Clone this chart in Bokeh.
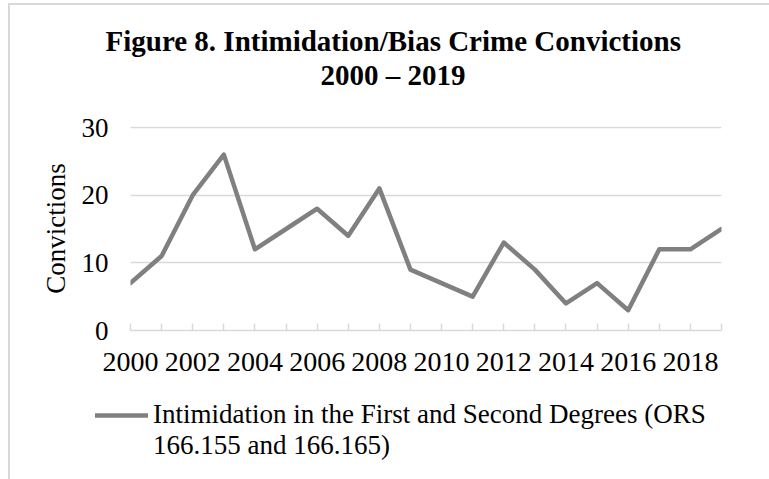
from bokeh.plotting import figure
from bokeh.layouts import column
from bokeh.models import Range1d, FixedTicker, Legend, LegendItem, Title
from bokeh.embed import file_html
from bokeh.resources import INLINE

# Annual convictions for intimidation in the first and second degrees
years = list(range(2000, 2020))
convictions = [7, 11, 20, 26, 12, 15, 18, 14, 21, 9, 7, 5, 13, 9, 4, 7, 3, 12, 12, 15]

y_ticks = [0, 10, 20, 30]
title_lines = ["Figure 8. Intimidation/Bias Crime Convictions", "2000 \u2013 2019"]
legend_lines = ["Intimidation in the First and Second Degrees (ORS", "166.155 and 166.165)"]

FONT = "Liberation Serif"
GRID = "#d9d9d9"
LINE = "#808080"
LINE_W = 4.5
W, H_CHART, H_KEY = 769, 390, 89

edge_v = f"linear-gradient({GRID}, {GRID}) 8px 3px / 2px 100% no-repeat"
edge_h = f"linear-gradient({GRID}, {GRID}) 8px 3px / 100% 2px no-repeat"

# ---- chart ----
p = figure(width=W, height=H_CHART, output_backend="svg", toolbar_location=None,
           x_range=Range1d(years[0], years[-1]), y_range=Range1d(y_ticks[0], 30.15),
           min_border_left=130, min_border_right=48, min_border_top=126,
           min_border_bottom=H_CHART - 330)
p.border_fill_alpha = 0
p.background_fill_color = "white"
p.outline_line_color = None
p.styles = {"background": f"{edge_v}, {edge_h}, #ffffff"}

# x axis: a tick every year, labels on even years
p.xaxis.ticker = FixedTicker(ticks=years)
p.xaxis.major_label_overrides = {y: (str(y) if y % 2 == 0 else "") for y in years}
p.xaxis.axis_line_color = GRID
p.xaxis.axis_line_width = 1.5
p.xaxis.major_tick_line_color = GRID
p.xaxis.major_tick_line_width = 1.5
p.xaxis.major_tick_in = 7
p.xaxis.major_tick_out = 0
p.xaxis.minor_tick_line_color = None
p.xaxis.major_label_standoff = 22
p.xaxis.major_label_text_font = FONT
p.xaxis.major_label_text_font_size = "28px"
p.xaxis.major_label_text_color = "black"

# y axis: labels only, gridlines carry the scale
p.yaxis.ticker = FixedTicker(ticks=y_ticks)
p.yaxis.axis_line_color = None
p.yaxis.major_tick_line_color = None
p.yaxis.minor_tick_line_color = None
p.yaxis.major_tick_in = 0
p.yaxis.major_tick_out = 0
p.yaxis.major_label_standoff = 22
p.yaxis.major_label_text_font = FONT
p.yaxis.major_label_text_font_size = "27px"
p.yaxis.major_label_text_color = "black"
p.yaxis.axis_label = "Convictions"
p.yaxis.axis_label_text_font = FONT
p.yaxis.axis_label_text_font_size = "27px"
p.yaxis.axis_label_text_font_style = "normal"
p.yaxis.axis_label_text_color = "black"
p.yaxis.axis_label_standoff = 8

p.xgrid.grid_line_color = None
p.ygrid.ticker = FixedTicker(ticks=y_ticks)
p.ygrid.grid_line_color = GRID
p.ygrid.grid_line_width = 1.5

p.line(years, convictions, line_color=LINE, line_width=LINE_W,
       line_join="round", line_cap="round")

# two-line title; the nearer line carries an empty row to leave a gap above the plot
TITLE_PX = 29
for text, offset, valign, standoff in [(title_lines[1] + "\n", 190, "top", 4),
                                       (title_lines[0], -25, "bottom", 0)]:
    p.add_layout(Title(text=text, align="left", offset=offset, vertical_align=valign,
                       text_font=FONT, text_font_size=f"{TITLE_PX}px",
                       text_font_style="bold", text_color="black",
                       text_line_height=1.0, standoff=standoff), "above")

# ---- key strip under the chart ----
# its ranges sit away from the data so only the legend swatch shows
k = figure(width=W, height=H_KEY, output_backend="svg", toolbar_location=None,
           x_range=Range1d(0, 1), y_range=Range1d(0, 1),
           min_border=0, x_axis_location=None, y_axis_location=None)
k.grid.visible = False
k.outline_line_color = None
k.border_fill_alpha = 0
k.background_fill_color = None
k.styles = {"background": f"{edge_v.replace('8px 3px', '8px 0px')}, #ffffff"}

key_line = k.line(years, convictions, line_color=LINE, line_width=LINE_W,
                  line_join="round", line_cap="round")
key_blank = k.line(years[:1], convictions[:1], line_alpha=0)
legend = Legend(items=[LegendItem(label=legend_lines[0], renderers=[key_line]),
                       LegendItem(label=legend_lines[1], renderers=[key_blank])],
                location=(95, 18), orientation="vertical",
                padding=0, margin=0, spacing=0,
                border_line_alpha=0, background_fill_alpha=0,
                glyph_width=53, glyph_height=30, label_height=30, label_standoff=5,
                label_text_font=FONT, label_text_font_size="27px",
                label_text_color="black")
k.add_layout(legend, "center")

open("out.html", "w").write(file_html(column(p, column(k)), INLINE))
